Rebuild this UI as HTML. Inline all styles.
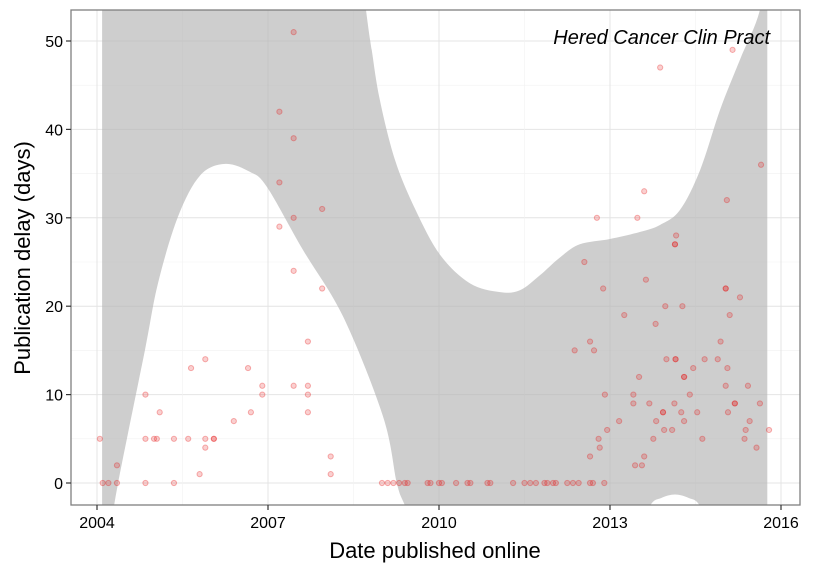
<!DOCTYPE html>
<html><head><meta charset="utf-8"><style>
body{margin:0;background:#fff;}
svg{display:block;font-family:"Liberation Sans",sans-serif;}
</style></head><body>
<svg id="chart" width="825" height="570" viewBox="0 0 825 570" xmlns="http://www.w3.org/2000/svg">
<defs><clipPath id="panelClip"><rect x="71" y="10" width="729" height="495"/></clipPath></defs>
<rect x="0" y="0" width="825" height="570" fill="#fff"/>
<g id="grid"></g>
<g id="ribbon" clip-path="url(#panelClip)"></g>
<g id="points"></g>
<g id="axes"></g>
<text x="770" y="44" text-anchor="end" font-size="20" font-style="italic" fill="#000">Hered Cancer Clin Pract</text>
<text x="435" y="558" text-anchor="middle" font-size="22" fill="#000">Date published online</text>
<text transform="translate(30,258) rotate(-90)" text-anchor="middle" font-size="22" fill="#000">Publication delay (days)</text>
</svg>
<script>
const xTicks = [2004, 2007, 2010, 2013, 2016];
const yTicks = [0, 10, 20, 30, 40, 50];
const upperYears = [2004.09,2008.4,2008.72,2008.82,2008.96,2009.23,2009.58,2010.02,2010.54,2011.07,2011.42,2011.77,2012.12,2012.47,2013.0,2013.53,2013.88,2014.23,2014.58,2014.93,2015.28,2015.63,2015.76];
const upperVals = [70,70,53.5,49,43.4,36.5,31,25.8,22.6,21.6,21.8,23.5,25.5,27,27.6,28.4,29.2,30.9,35.4,42.2,47.9,53.5,60];
const lowerYears = [2004.09,2004.25,2004.37,2004.84,2005.07,2005.42,2005.81,2006.25,2006.68,2006.98,2007.61,2008.32,2009.02,2009.26,2009.4,2009.7,2013.4,2013.7,2013.9,2014.14,2014.38,2014.58,2014.9,2015.76];
const lowerVals = [-12,-5,0,15,22.6,30.1,34.8,36.1,35.2,33.5,26.4,18.8,7.5,0,-2.5,-7,-7,-2.6,-1.7,-1.3,-1.7,-2.6,-7,-7];
const ptYears = [2004.05,2004.1,2004.2,2004.35,2004.35,2004.85,2004.85,2004.85,2005.0,2005.05,2005.1,2005.35,2005.35,2005.6,2005.65,2005.8,2005.9,2005.9,2005.9,2006.05,2006.05,2006.4,2006.65,2006.7,2006.9,2006.9,2007.2,2007.2,2007.2,2007.45,2007.45,2007.45,2007.45,2007.45,2007.7,2007.7,2007.7,2007.7,2007.95,2007.95,2008.1,2008.1,
2009.0,2009.1,2009.2,2009.3,2009.4,2009.45,2009.8,2009.85,2010.0,2010.05,2010.3,2010.5,2010.55,2010.85,2010.9,2011.3,2011.5,2011.6,2011.7,2011.85,2011.9,2012.0,2012.05,2012.25,2012.35,2012.45,2012.65,2012.7,2012.9,
2013.6,2015.05,2012.77,2013.48,2014.16,2014.14,2014.14,2012.55,2013.63,2012.88,2015.03,2015.03,2015.28,2013.97,2014.27,2013.25,2015.1,2013.8,2012.65,2014.94,2012.38,2012.72,2013.99,2014.15,2014.15,2014.66,2014.89,2014.46,2015.06,2013.51,2014.3,2014.3,2015.03,2015.42,2012.91,2013.41,2014.4,2013.41,2013.69,2014.13,2015.19,2015.19,2015.63,2013.93,2013.93,2014.25,2014.53,2015.07,2013.16,2013.81,2014.3,2015.45,2012.95,2013.95,2014.09,2015.38,2015.79,2012.8,2013.76,2014.62,2015.36,2012.82,2015.57,2012.65,2013.6,2013.44,2013.56,2013.88,2015.15,2015.65];
const ptValues = [5,0,0,2,0,10,5,0,5,5,8,5,0,5,13,1,14,5,4,5,5,7,13,8,10,11,42,34,29,51,39,30,24,11,16,11,10,8,31,22,3,1,
0,0,0,0,0,0,0,0,0,0,0,0,0,0,0,0,0,0,0,0,0,0,0,0,0,0,0,0,0,
33,32,30,30,28,27,27,25,23,22,22,22,21,20,20,19,19,18,16,16,15,15,14,14,14,14,14,13,13,12,12,12,11,11,10,10,10,9,9,9,9,9,9,8,8,8,8,8,7,7,7,7,6,6,6,6,6,5,5,5,5,4,4,3,3,2,2,47,49,36];

const L=71,R=800,T=10,B=505;
const xs = y => 97 + (y-2004)*57;
const ys = v => 483 - v*8.84;
const NS="http://www.w3.org/2000/svg";
function mk(tag, attrs, parent){const e=document.createElementNS(NS,tag);for(const k in attrs)e.setAttribute(k,attrs[k]);parent.appendChild(e);return e;}
const grid=document.getElementById('grid');
mk('rect',{x:L,y:T,width:R-L,height:B-T,fill:'#fff'},grid);
for(let v=0;v<=55;v+=5){const y=ys(v);if(y<T||y>B)continue;const l=mk('line',{x1:L,x2:R,y1:y,y2:y,stroke:v%10===0?'#e4e4e4':'#f2f2f2','stroke-width':v%10===0?1:0.6},grid);

}
for(let t=2002.5;t<=2017;t+=1.5){const x=xs(t);if(x<L||x>R)continue;const maj=Math.abs((t-2004)%3)<0.01;const l=mk('line',{x1:x,x2:x,y1:T,y2:B,stroke:maj?'#e4e4e4':'#f2f2f2','stroke-width':maj?1:0.6},grid);

}
function smooth(pts, start){
  let d=start?('M'+pts[0][0].toFixed(1)+','+pts[0][1].toFixed(1)):('L'+pts[0][0].toFixed(1)+','+pts[0][1].toFixed(1));
  for(let i=0;i<pts.length-1;i++){
    const p0=pts[Math.max(0,i-1)],p1=pts[i],p2=pts[i+1],p3=pts[Math.min(pts.length-1,i+2)];
    const c1=[p1[0]+(p2[0]-p0[0])/6,p1[1]+(p2[1]-p0[1])/6];
    const c2=[p2[0]-(p3[0]-p1[0])/6,p2[1]-(p3[1]-p1[1])/6];
    d+='C'+c1[0].toFixed(1)+','+c1[1].toFixed(1)+' '+c2[0].toFixed(1)+','+c2[1].toFixed(1)+' '+p2[0].toFixed(1)+','+p2[1].toFixed(1);
  }
  return d;
}
const up=upperYears.map((y,i)=>[xs(y),ys(upperVals[i])]);
const lo=lowerYears.map((y,i)=>[xs(y),ys(lowerVals[i])]).reverse();
const d=smooth(up,true)+smooth(lo,false)+'Z';
const rib=mk('path',{d:d,fill:'#b3b3b3','fill-opacity':0.65},document.getElementById('ribbon'));


const pg=document.getElementById('points');
for(let i=0;i<ptYears.length;i++){
 const c=mk('circle',{cx:xs(ptYears[i]),cy:ys(ptValues[i]),r:2.6,fill:'rgba(230,20,20,0.2)',stroke:'rgba(230,20,20,0.32)','stroke-width':1},pg);
 
 
}
const ax=document.getElementById('axes');
mk('rect',{x:L,y:T,width:R-L,height:B-T,fill:'none',stroke:'#7f7f7f','stroke-width':1.3},ax);
for(const v of yTicks){const y=ys(v);mk('line',{x1:L-5,x2:L,y1:y,y2:y,stroke:'#333','stroke-width':1.2},ax);
const t=mk('text',{x:L-8,y:y+6,'text-anchor':'end','font-size':16,fill:'#000'},ax);t.textContent=v;

}
for(const v of xTicks){const x=xs(v);mk('line',{x1:x,x2:x,y1:B,y2:B+5,stroke:'#333','stroke-width':1.2},ax);
const t=mk('text',{x:x,y:B+23,'text-anchor':'middle','font-size':16,fill:'#000'},ax);t.textContent=v;

}
</script>
</body></html>
